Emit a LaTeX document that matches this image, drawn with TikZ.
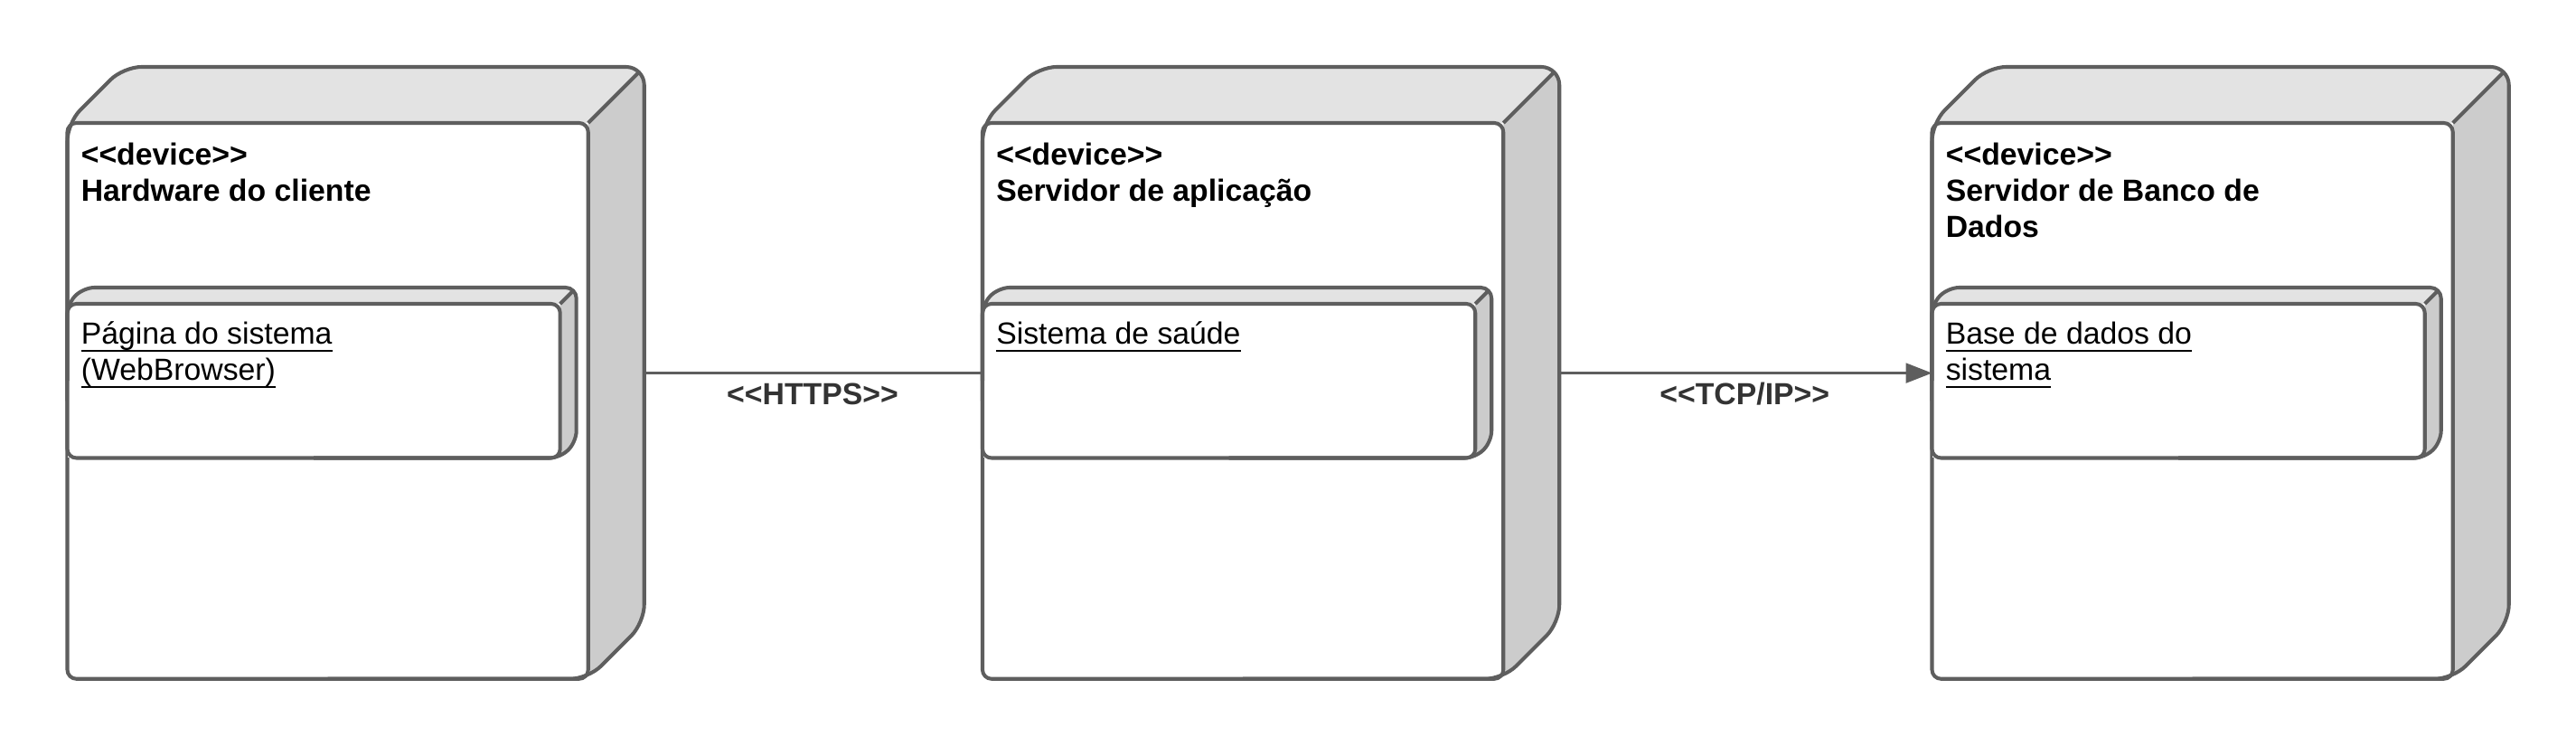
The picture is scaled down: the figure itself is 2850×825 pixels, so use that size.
\documentclass[tikz,border=0pt]{standalone}
\usepackage{fontspec}
\setmainfont{Liberation Sans}
\usetikzlibrary{arrows.meta,calc}
\definecolor{edgegray}{HTML}{5E5E5E}
\definecolor{topgray}{HTML}{E3E3E3}
\definecolor{sidegray}{HTML}{CCCCCC}
\definecolor{lblgray}{HTML}{333333}
\newsavebox\ulbox
\newcommand\ulin[1]{\sbox\ulbox{#1}\usebox\ulbox\llap{\rule[-2.3pt]{\wd\ulbox}{0.6pt}}}
\tikzset{
  shapeline/.style={draw=edgegray, line width=1.15pt, line join=round},
  frontfill/.style={fill=white, rectangle, inner sep=0pt, anchor=north west},
  titletext/.style={font=\bfseries\fontsize{9.6pt}{11.4pt}\selectfont, align=left, inner sep=0pt, anchor=north west},
  innertext/.style={font=\fontsize{9.6pt}{11.4pt}\selectfont, align=left, inner sep=0pt, anchor=north west},
  conn/.style={draw=edgegray, line width=0.65pt},
  lbl/.style={font=\bfseries\fontsize{9.6pt}{11.4pt}\selectfont, text=lblgray, inner sep=0pt, midway, yshift=-0.234cm}
}
% #1 name, #2 x, #3 y, #4 width, #5 height, #6 depth (px), #7 outer corner radius
\newcommand\boxthreed[7]{%
  \node[frontfill, minimum width=#4, minimum height=#5] (#1) at (#2,#3) {};
  \begin{scope}
    \clip[rounded corners=#7] (#1.south west) -- (#1.north west) -- ++(#6,-#6)
      -- ($(#1.north east)+(#6,-#6)$) -- ($(#1.south east)+(#6,-#6)$) -- (#1.south east) -- cycle;
    \fill[topgray] (#1.north west) -- ++(#6,-#6) -- ($(#1.north east)+(#6,-#6)$) -- (#1.north east) -- cycle;
    \fill[sidegray] (#1.north east) -- ++(#6,-#6) -- ($(#1.south east)+(#6,-#6)$) -- (#1.south east) -- cycle;
  \end{scope}
  \draw[shapeline, rounded corners=#7] (#1.west) -- (#1.north west) -- ++(#6,-#6)
      -- ($(#1.north east)+(#6,-#6)$) -- ($(#1.south east)+(#6,-#6)$) -- (#1.south east) -- (#1.south);
  \draw[shapeline, shorten >={0.41*#7}] (#1.north east) -- ++(#6,-#6);
  \draw[shapeline, rounded corners=1mm] (#1.north west) rectangle (#1.south east);
}
\newcommand\devbox[4]{%
  \boxthreed{#1}{#2}{136}{5.745cm}{6.13cm}{62}{2mm}
  \boxthreed{#1i}{#2}{336}{5.435cm}{1.69cm}{18}{1.2mm}
  \node[titletext] (#1t) at ({#2+14.6},153.9) {\rule{0pt}{8pt}<{}<device>{}>\\#3};
  \node[innertext] (#1s) at ({#2+14.6},351.9) {\rule{0pt}{8pt}#4};
}
\begin{document}
\begin{tikzpicture}[x=0.01cm,y=-0.01cm]
\useasboundingbox (0,0) rectangle (2850,825);
\devbox{n1}{74.5}{Hardware do cliente}{\ulin{Página do sistema}\\\ulin{(WebBrowser)}}
\devbox{n2}{1087}{Servidor de aplicação}{\ulin{Sistema de saúde}}
\devbox{n3}{2137.5}{Servidor de Banco de\\Dados}{\ulin{Base de dados do}\\\ulin{sistema}}
\coordinate (h1) at (711,412.6);
\coordinate (h2) at (1723,412.6);
\draw[conn] (h1) -- (h1 -| n2.west) node[lbl] {<{}<HTTPS>{}>};
\draw[conn, -{Triangle[length=0.29cm,width=0.22cm]}] (h2) -- (h2 -| n3.west) node[lbl] {<{}<TCP/IP>{}>};
\end{tikzpicture}
\end{document}
